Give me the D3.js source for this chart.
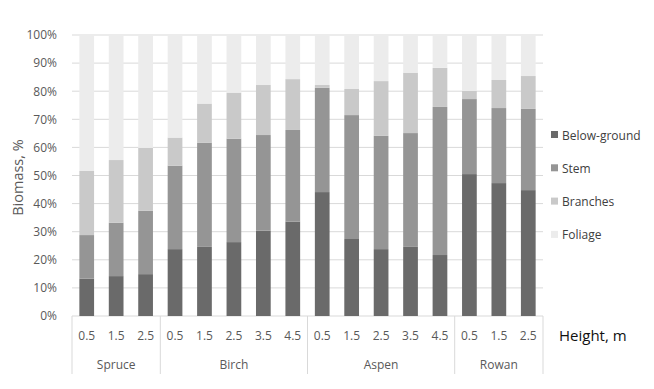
<!DOCTYPE html>
<html>
<head>
<meta charset="utf-8">
<script src="https://cdn.jsdelivr.net/npm/d3@7"></script>
<style>
  body { margin: 0; background: #fff; }
  svg text { font-family: "Open Sans", "Noto Sans", sans-serif; }
</style>
</head>
<body>
<div id="chart"></div>
<script>
// groups and heights (x axis)
const species = ["Spruce", "Birch", "Aspen", "Rowan"];
const heights = [
  ["0.5", "1.5", "2.5"],
  ["0.5", "1.5", "2.5", "3.5", "4.5"],
  ["0.5", "1.5", "2.5", "3.5", "4.5"],
  ["0.5", "1.5", "2.5"]
];

// share of biomass, %
const belowGround = [13.3, 14.2, 14.9, 23.8, 24.6, 26.3, 30.4, 33.6, 44.1, 27.4, 23.8, 24.6, 21.7, 50.5, 47.3, 44.8];
const stem        = [15.5, 19.0, 22.6, 29.7, 37.1, 36.8, 34.0, 32.6, 37.1, 44.1, 40.3, 40.5, 52.7, 26.7, 26.7, 28.9];
const branches    = [22.8, 22.3, 22.3, 10.0, 13.9, 16.4, 17.8, 18.1, 1.0, 9.3, 19.5, 21.5, 13.9, 2.9, 10.0, 11.7];
const foliage     = [48.4, 44.5, 40.2, 36.5, 24.4, 20.5, 17.8, 15.7, 17.8, 19.2, 16.4, 13.4, 11.7, 19.9, 16.0, 14.6];

const seriesNames = ["Below-ground", "Stem", "Branches", "Foliage"];
const seriesColors = ["#6a6a6a", "#959595", "#c9c9c9", "#ececec"];
const yTicks = [0, 10, 20, 30, 40, 50, 60, 70, 80, 90, 100];

const width = 654, height = 389;
const margin = { top: 35, left: 72, right: 111, bottom: 73 };
const plotW = width - margin.left - margin.right;
const plotH = height - margin.top - margin.bottom;

// flat list of bars
const rows = [];
species.forEach((sp, gi) => {
  heights[gi].forEach((h) => {
    const i = rows.length;
    rows.push({
      key: sp + "-" + h, species: sp, height: h,
      "Below-ground": belowGround[i], Stem: stem[i], Branches: branches[i], Foliage: foliage[i]
    });
  });
});

const svg = d3.select("#chart").append("svg")
  .attr("width", width).attr("height", height);

const g = svg.append("g").attr("transform", `translate(${margin.left},${margin.top})`);

const x = d3.scaleBand().domain(rows.map((d) => d.key)).range([0, plotW]).paddingInner(0.5).paddingOuter(0.25);
const y = d3.scaleLinear().domain([0, 100]).range([plotH, 0]);
const color = d3.scaleOrdinal().domain(seriesNames).range(seriesColors);

// gridlines
g.selectAll("line.grid")
  .data(yTicks)
  .enter()
  .append("line")
  .attr("class", "grid")
  .attr("x1", 0).attr("x2", plotW)
  .attr("y1", (d) => y(d)).attr("y2", (d) => y(d))
  .attr("stroke", "#d9d9d9").attr("stroke-width", 1);

// y axis labels
const yAxis = d3.axisLeft(y).tickValues(yTicks).tickFormat((d) => d + "%").tickSize(0).tickPadding(15);
g.append("g").call(yAxis)
  .call((s) => s.select(".domain").remove())
  .selectAll("text")
  .attr("fill", "#595959").attr("font-size", 12);

// stacked bars
const stacked = d3.stack().keys(seriesNames)(rows);
g.selectAll("g.layer")
  .data(stacked)
  .enter()
  .append("g")
  .attr("class", "layer")
  .attr("fill", (d) => color(d.key))
  .selectAll("rect")
  .data((d) => d)
  .enter()
  .append("rect")
  .attr("x", (d) => x(d.data.key))
  .attr("width", x.bandwidth())
  .attr("y", (d) => y(Math.min(d[1], 100)))
  .attr("height", (d) => y(d[0]) - y(Math.min(d[1], 100)));

// x axis: heights then species, with separators
const step = x.step();
const xa = g.append("g").attr("transform", `translate(0,${plotH})`);
xa.selectAll("text.tick")
  .data(rows)
  .enter()
  .append("text")
  .attr("x", (d) => x(d.key) + x.bandwidth() / 2)
  .attr("y", 24)
  .attr("text-anchor", "middle")
  .attr("fill", "#595959").attr("font-size", 12)
  .text((d) => d.height);

let start = 0;
const bounds = [0];
heights.forEach((hs, gi) => {
  const x0 = start * step, x1 = (start + hs.length) * step;
  xa.append("text")
    .attr("x", (x0 + x1) / 2).attr("y", 53)
    .attr("text-anchor", "middle")
    .attr("fill", "#595959").attr("font-size", 12)
    .text(species[gi]);
  start += hs.length;
  bounds.push(x1);
});
xa.selectAll("line.sep")
  .data(bounds)
  .enter()
  .append("line")
  .attr("x1", (d) => d).attr("x2", (d) => d)
  .attr("y1", 0).attr("y2", 58)
  .attr("stroke", "#d9d9d9");

// axis titles
svg.append("text")
  .attr("transform", `translate(23,${margin.top + plotH / 2 + 2}) rotate(-90)`)
  .attr("text-anchor", "middle")
  .attr("fill", "#595959").attr("font-size", 14.5)
  .text("Biomass, %");

svg.append("text")
  .attr("x", 559).attr("y", margin.top + plotH + 25)
  .attr("fill", "#111").attr("font-size", 15)
  .text("Height, m");

// legend
const legend = svg.append("g").attr("transform", "translate(551,135)");
const li = legend.selectAll("g")
  .data(seriesNames)
  .enter()
  .append("g")
  .attr("transform", (d, i) => `translate(0,${i * 33.3})`);
li.append("rect")
  .attr("x", 0).attr("y", -4).attr("width", 7).attr("height", 7)
  .attr("fill", (d) => color(d));
li.append("text")
  .attr("x", 11).attr("y", 4.5)
  .attr("fill", "#404040").attr("font-size", 12)
  .text((d) => d);
</script>
</body>
</html>
